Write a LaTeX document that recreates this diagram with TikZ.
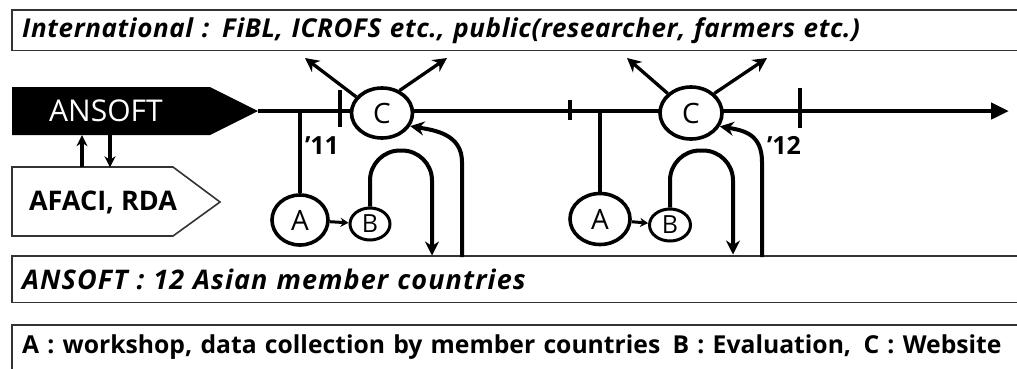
\documentclass[tikz,border=0pt]{standalone}
\usepackage{fontspec}
\setsansfont{Open Sans}
\usetikzlibrary{positioning, arrows.meta, shapes.geometric}

\begin{document}
\begin{tikzpicture}[x=1pt, y=1pt, font=\sffamily\bfseries,
  >={Stealth[length=14pt, width=14pt]},
  band/.style={anchor=north west, inner xsep=10pt, inner ysep=0pt,
    text width=985pt, align=left, font=\sffamily\bfseries\fontsize{24.7}{30}\selectfont},
  rim/.style={draw=black!80, line width=1.6pt},
  ev/.style={ellipse, draw, fill=white, line width=3.6pt, inner sep=0pt,
    font=\sffamily\fontsize{28}{30}\selectfont},
  evs/.style={ev, line width=3pt, font=\sffamily\fontsize{25}{26}\selectfont},
  axis/.style={line width=4.8pt, -{Triangle[length=18pt, width=16pt]}},
  tickmark/.style={line width=3.6pt},
  drop/.style={line width=3.3pt},
  flow/.style={->, line width=4pt},
  send/.style={->, line width=3.3pt},
  hop/.style={-{Stealth[length=8pt, width=9pt]}, line width=3pt},
  yr/.style={font=\sffamily\bfseries\fontsize{25}{26}\selectfont}]
\useasboundingbox (0,0) rectangle (1017,-368);

% bands
\node[band, minimum height=40pt,
  font=\sffamily\bfseries\itshape\fontsize{26}{30}\selectfont\addfontfeatures{LetterSpace=2.3}] (intl) at (12,-10)
  {International : FiBL, ICROFS etc., public(researcher, farmers etc.)};
\node[band, minimum height=46pt,
  font=\sffamily\bfseries\itshape\fontsize{27}{30}\selectfont\addfontfeatures{LetterSpace=4}] (member) at (12,-256)
  {ANSOFT : 12 Asian member countries};
\node[band, minimum height=44pt] (legend) at (12,-325)
  {A : workshop, data collection by member countries\enspace B : Evaluation,\enspace C : Website};
\draw[rim] (intl.north east) -- (intl.north west) -- (intl.south west) -- (intl.south east);
\draw[rim] (member.north east) -- (member.north west) -- (member.south west) -- (member.south east);
\draw[rim] (legend.south west) -- (legend.north west) -- (legend.north east) -- (legend.south east);

% ANSOFT and AFACI
\fill (12,-87) -- (210,-87) -- (258,-111) -- (210,-135) -- (12,-135) -- cycle;
\draw[rim] (12,-167) -- (173,-167) -- (220,-202) -- (173,-236) -- (12,-236) -- cycle;
\node[inner sep=0pt, minimum height=48pt, text=white,
  font=\sffamily\fontsize{30}{32}\selectfont] (ansoft) at (106,-111) {ANSOFT};
\node[inner sep=0pt, minimum height=69pt,
  font=\sffamily\bfseries\fontsize{27}{28}\selectfont] (afaci) at (103,-202) {AFACI, RDA};
\draw[flow, -{Stealth[length=11pt, width=11pt]}] ([xshift=-21pt]afaci.north) -- ([xshift=-24pt]ansoft.south);
\draw[flow, -{Stealth[length=11pt, width=11pt]}] ([xshift=4pt]ansoft.south) -- ([xshift=7pt]afaci.north);

% time line
\coordinate (start) at (258,-111);
\coordinate (stop) at (1009,-111);
\draw[axis] (start) -- (stop);
\foreach \x/\a/\b in {340/90/127, 570/100/120, 800/88/128}
  \draw[tickmark] (\x,-\a) -- (\x,-\b);
\node[yr] (y11) at (322,-146) {'11};
\node[yr] (y12) at (784,-145) {'12};

% first year
\node[ev, minimum width=61pt, minimum height=50pt] (c1) at (382,-113) {C};
\node[ev, minimum width=56pt, minimum height=50pt] (a1) at (300,-220) {A};
\node[evs, minimum width=40pt, minimum height=32pt] (b1) at (370,-224) {B};
\coordinate (ret1) at (462,-257);
\coordinate (out1l) at (305,-58);
\coordinate (out1r) at (447,-58);
\draw[drop] (a1.north) -- (a1.north |- start);
\draw[hop] (a1) -- (b1);
\draw[flow, rounded corners=30pt] (b1.north) |- ++(62,56) -- ++(0,-105);
\draw[flow] (ret1) -- ++(0,95) .. controls +(0,28) and +(24,-4) .. (c1.-25);
\draw[send] (c1.148) -- (out1l);
\draw[send] (c1.52) -- (out1r);

% second year
\node[ev, minimum width=62pt, minimum height=52pt] (c2) at (691,-113) {C};
\node[ev, minimum width=60pt, minimum height=51pt] (a2) at (600,-219) {A};
\node[evs, minimum width=41pt, minimum height=32pt] (b2) at (670,-225) {B};
\coordinate (ret2) at (762,-257);
\coordinate (out2l) at (627,-58);
\coordinate (out2r) at (767,-58);
\draw[drop] (a2.north) -- (a2.north |- start);
\draw[hop] (a2) -- (b2);
\draw[flow, rounded corners=30pt] (b2.north) |- ++(63,57) -- ++(0,-104);
\draw[flow] (ret2) -- ++(0,95) .. controls +(0,28) and +(24,-4) .. (c2.-25);
\draw[send] (c2.140) -- (out2l);
\draw[send] (c2.40) -- (out2r);
\end{tikzpicture}
\end{document}
